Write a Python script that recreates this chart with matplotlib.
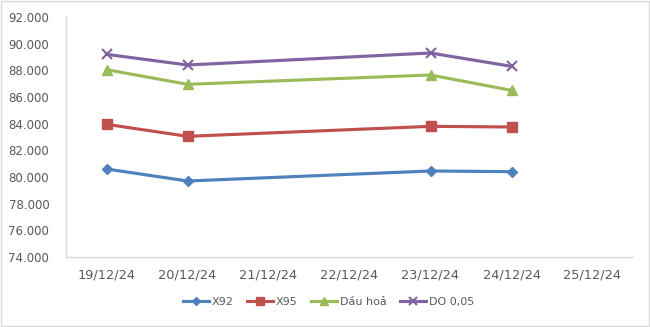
import matplotlib
matplotlib.use("Agg")
import matplotlib.pyplot as plt
from matplotlib.patches import Rectangle
import numpy as np

dates = ["19/12/24", "20/12/24", "21/12/24", "22/12/24", "23/12/24", "24/12/24", "25/12/24"]
data_idx = [0, 1, 4, 5]
x92 = [80.6, 79.7, 80.45, 80.4]
x95 = [83.95, 83.05, 83.8, 83.75]
dau_hoa = [88.05, 86.95, 87.65, 86.5]
do005 = [89.2, 88.4, 89.3, 88.3]
series_names = ["X92", "X95", "Dầu hoả", "DO 0,05"]
yticks = [74, 76, 78, 80, 82, 84, 86, 88, 90, 92]

colors = ["#4F81BD", "#C0504D", "#9BBB59", "#8064A2"]
markers = ["D", "s", "^", "x"]
msizes = [5, 7, 7, 7]

fig = plt.figure(figsize=(6.5, 3.27), dpi=100)
fig.patches.append(Rectangle((0.002, 0.003), 0.996, 0.994, transform=fig.transFigure,
                             fill=False, edgecolor="#D9D9D9", linewidth=1))
ax = fig.add_axes([66/650, (327-257)/327, (633-66)/650, (257-17)/327])

for vals, name, c, m, ms in zip([x92, x95, dau_hoa, do005], series_names, colors, markers, msizes):
    ax.plot(data_idx, vals, color=c, marker=m, markersize=ms, linewidth=2.25,
            markeredgewidth=1.5 if m == "x" else 1, label=name)

ax.set_xlim(-0.5, len(dates) - 0.5)
ax.set_ylim(74, 92)
ax.set_xticks(range(len(dates)))
ax.set_xticklabels(dates)
ax.set_yticks(yticks)
ax.set_yticklabels([f"{v}.000" for v in yticks])
ax.tick_params(axis="both", length=0, colors="#595959", labelsize=8.5)
ax.tick_params(axis="x", pad=8, labelsize=9.3)
ax.tick_params(axis="y", pad=12)
for s in ["top", "right"]:
    ax.spines[s].set_visible(False)
for s in ["left", "bottom"]:
    ax.spines[s].set_color("#D9D9D9")
    ax.spines[s].set_linewidth(1)

leg = fig.legend(loc="center", bbox_to_anchor=(0.505, (327-302)/327),
                 ncol=4, frameon=False, fontsize=8, handlelength=2.4, columnspacing=1.2,
                 handletextpad=0.2, markerscale=0.75)
for t in leg.get_texts():
    t.set_color("#595959")

fig.savefig("out.png", dpi=100)
